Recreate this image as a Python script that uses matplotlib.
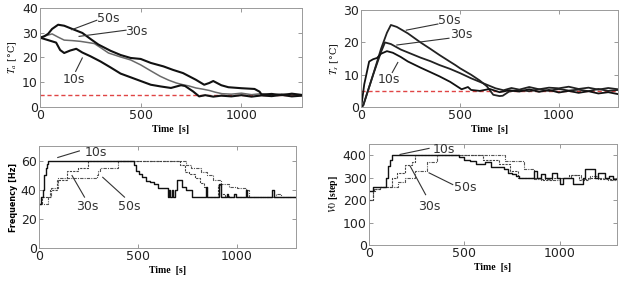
import matplotlib
matplotlib.use("Agg")
import matplotlib.pyplot as plt

# ---- data ----
# air temperature Ta [C]
ta10_t = [0, 20, 40, 60, 80, 100, 120, 150, 180, 210, 250, 300, 350, 400, 450, 500, 550, 600, 650, 700,
          720, 760, 790, 820, 860, 900, 950, 1000, 1050, 1100, 1150, 1200, 1250, 1300]
ta10 = [28, 27.5, 27, 26.5, 26, 23, 21.8, 22.8, 23.5, 22, 20.5, 18.4, 16, 13.5, 12, 10.5, 9, 8.3, 7.7, 8.8,
        8.5, 6.3, 4.3, 4.8, 4.2, 4.6, 4.3, 4.8, 4.2, 4.7, 4.4, 4.9, 4.3, 4.6]
ta30_t = [0, 30, 60, 90, 120, 160, 200, 240, 270, 300, 340, 400, 450, 500, 550, 597, 640, 677, 710, 740,
          774, 810, 840, 870, 903, 950, 1000, 1050, 1100, 1150, 1200, 1250, 1300]
ta30 = [28, 28.8, 29.5, 28.2, 27, 26.8, 26.5, 26, 25.6, 24, 21.8, 20.2, 19, 17, 14.6, 12.4, 10.8, 9.7, 9, 8.5,
        7.7, 7.2, 6.7, 6, 5.4, 5.2, 5.6, 5, 5.4, 4.8, 5.3, 5.0, 4.7]
ta50_t = [0, 20, 40, 60, 90, 120, 160, 210, 250, 290, 350, 400, 450, 500, 550, 613, 660, 710, 774, 815,
          840, 860, 900, 935, 1000, 1065, 1090, 1100, 1150, 1200, 1250, 1300]
ta50 = [28, 28.5, 29.5, 31.5, 33.2, 32.8, 31.5, 29.9, 27.5, 25.2, 22.7, 21.0, 19.8, 19.4, 17.8, 16.4, 15.0, 13.7, 11, 9,
        9.7, 10.5, 8.8, 8, 7.6, 7.3, 6.2, 5, 5.3, 4.8, 5.4, 4.9]

# supply temperature Ts [C]
ts10_t = [0, 15, 40, 60, 80, 100, 130, 160, 200, 236, 300, 350, 396, 450, 508, 540, 556, 600, 650, 700,
          750, 800, 850, 900, 950, 1000, 1050, 1100, 1150, 1200, 1250, 1300]
ts10 = [0, 7, 14.1, 14.8, 15.2, 16.5, 17.3, 16.8, 15.5, 14.1, 12.2, 10.8, 9.5, 7.8, 5.5, 6.2, 5.3, 5.0, 5.6, 4.6,
        5.2, 4.8, 5.5, 4.7, 5.3, 4.5, 5.0, 4.4, 4.9, 4.2, 4.6, 4.0]
ts30_t = [0, 10, 60, 100, 120, 150, 200, 236, 300, 350, 396, 450, 500, 556, 600, 636, 680, 720, 760, 800,
          850, 900, 950, 1000, 1050, 1100, 1150, 1200, 1250, 1300]
ts30 = [0, 0.5, 10, 17, 20, 19.5, 17.8, 16.9, 15.3, 14.2, 13, 11.8, 10.5, 8.9, 7.8, 6.9, 5.8, 5.2, 5.9, 5.4,
        6.2, 5.5, 6.0, 5.8, 6.3, 5.6, 6.0, 5.4, 5.9, 5.5]
ts50_t = [0, 10, 60, 100, 130, 150, 180, 236, 300, 350, 396, 450, 476, 500, 556, 600, 636, 668, 700, 716,
          748, 800, 850, 900, 950, 1000, 1050, 1100, 1150, 1200, 1250, 1300]
ts50 = [0, 0.5, 10, 18, 23, 25.4, 24.8, 22.8, 20, 18, 16.1, 14, 13, 12, 10, 8.2, 6.4, 3.8, 3.4, 3.5,
        4.8, 5.3, 4.9, 5.5, 5.0, 5.6, 5.1, 5.4, 4.9, 5.6, 5.0, 5.3]

# compressor frequency [Hz]
f10_t = [0, 10, 20, 28, 35, 40, 45, 480, 490, 505, 520, 540, 560, 580, 600, 650, 658, 665, 672, 680,
         690, 700, 723, 741, 775, 843, 851, 910, 918, 948, 955, 988, 995, 1047, 1053, 1178, 1186, 1300]
f10 = [30, 35, 40, 50, 55, 58, 60, 57, 53, 51, 48.6, 46.4, 45.2, 44, 41, 35, 40, 35, 40, 35,
       40, 47, 42, 40, 35, 42, 35, 44, 35, 37, 35, 37, 35, 40, 35, 40, 35, 35]
f30_t = [0, 15, 55, 90, 145, 200, 250, 713, 740, 760, 790, 815, 835, 850, 905, 922, 940, 960, 1300]
f30 = [30, 35, 40, 47, 53, 55, 60, 57, 52, 51, 48, 45, 42, 35, 43, 37, 36, 35, 35]
f50_t = [0, 45, 60, 95, 293, 300, 310, 400, 745, 770, 820, 850, 880, 920, 960, 1000, 1045, 1060, 1198, 1224, 1300]
f50 = [30, 35, 41, 48, 50, 53, 55, 60, 57, 55, 52, 50, 47, 44, 42, 41, 40, 35, 37, 35, 35]

# valve opening V0 [step]
v10_t = [0, 20, 90, 100, 110, 120, 475, 500, 530, 560, 610, 640, 707, 730, 752, 770, 788, 868, 880, 905,
         925, 958, 984, 1000, 1020, 1070, 1123, 1132, 1185, 1203, 1240, 1260, 1280, 1300]
v10 = [240, 260, 300, 350, 380, 400, 390, 380, 373, 361, 368, 346, 340, 320, 316, 305, 300, 330, 300, 316,
       300, 322, 300, 271, 300, 271, 300, 338, 300, 322, 300, 305, 295, 300]
v30_t = [0, 20, 35, 57, 120, 150, 191, 227, 244, 600, 680, 740, 780, 900, 960, 1050, 1100, 1150, 1200, 1300]
v30 = [200, 240, 250, 260, 300, 320, 354, 370, 400, 380, 362, 330, 300, 290, 300, 310, 290, 300, 295, 300]
v50_t = [0, 20, 30, 60, 154, 191, 244, 307, 360, 713, 815, 868, 950, 1000, 1060, 1110, 1160, 1200, 1250, 1300]
v50 = [200, 240, 250, 260, 280, 300, 331, 368, 400, 376, 338, 293, 290, 300, 310, 295, 305, 298, 290, 295]

target_temp = 5

plt.rcParams['font.family'] = ['DejaVu Sans']
plt.rcParams['mathtext.fontset'] = 'stix'

fig = plt.figure(figsize=(6.25, 2.81), dpi=100)
ax1 = fig.add_axes([0.064, 0.619, 0.419, 0.353])
ax2 = fig.add_axes([0.578, 0.619, 0.411, 0.345])
ax3 = fig.add_axes([0.062, 0.117, 0.412, 0.363])
ax4 = fig.add_axes([0.590, 0.128, 0.397, 0.360])


def style(ax, ylim, yticks, ylabel, ylabel_kw):
    ax.set_xlim(0, 1300)
    ax.set_ylim(*ylim)
    ax.set_xticks([0, 500, 1000])
    ax.set_yticks(yticks)
    ax.tick_params(direction='in', length=3, width=0.6, color='#888888', top=True, right=True,
                   labelsize=9, pad=1.5, labelcolor='#222222')
    for s in ax.spines.values():
        s.set_color('#9a9a9a')
        s.set_linewidth(0.7)
    ax.set_xlabel('Time  [s]', family='Liberation Serif', weight='bold', fontsize=7, labelpad=2)
    ax.set_ylabel(ylabel, labelpad=2, **ylabel_kw)


def note(ax, text, xy, xytext, lineend):
    ax.plot([xy[0], lineend[0]], [xy[1], lineend[1]], color='#333333', lw=0.8)
    ax.text(xytext[0], xytext[1], text, fontsize=9, color='#333333', ha='center', va='center')


# Ta
ax1.axhline(target_temp, color='#e04545', ls=(0, (3, 2)), lw=1.0)
ax1.plot(ta30_t, ta30, color='#6a6a6a', lw=1.1)
ax1.plot(ta50_t, ta50, color='#111111', lw=1.5)
ax1.plot(ta10_t, ta10, color='#111111', lw=1.5)
style(ax1, (0, 40), [0, 10, 20, 30, 40], r'$T_a$ [°C]', dict(fontsize=7, family='DejaVu Serif'))
note(ax1, '50s', (158, 31.2), (339, 35.9), (282, 35))
note(ax1, '30s', (194, 28.5), (476, 30.6), (427, 31))
note(ax1, '10s', (210, 19.8), (169, 11), (177, 14.4))

# Ts
ax2.axhline(target_temp, color='#e04545', ls=(0, (3, 2)), lw=1.0)
ax2.plot(ts30_t, ts30, color='#222222', lw=1.3)
ax2.plot(ts50_t, ts50, color='#222222', lw=1.3)
ax2.plot(ts10_t, ts10, color='#111111', lw=1.3)
style(ax2, (0, 30), [0, 10, 20, 30], r'$T_s$ [°C]', dict(fontsize=7, family='DejaVu Serif'))
note(ax2, '50s', (228, 23.8), (444, 26.9), (388, 25.7))
note(ax2, '30s', (180, 19.2), (508, 22.3), (444, 21.3))
note(ax2, '10s', (185, 13.8), (140, 8.4), (157, 10.7))

# Frequency
ax3.step(f50_t, f50, where='post', color='#555555', lw=0.8, ls=(0, (3, 1, 1, 1)))
ax3.step(f30_t, f30, where='post', color='#444444', lw=0.8, ls=(0, (2, 1)))
ax3.step(f10_t, f10, where='post', color='#111111', lw=1.0)
style(ax3, (0, 70), [0, 20, 40, 60], 'Frequency [Hz]',
      dict(fontsize=6.5, weight='bold', family=['Liberation Sans Narrow', 'DejaVu Sans'],
           fontstretch='condensed'))
note(ax3, '10s', (96, 62.2), (290, 65.6), (205, 66.7))
note(ax3, '30s', (168, 49.8), (247, 28.7), (231, 35))
note(ax3, '50s', (323, 48.6), (458, 28.3), (433, 35))

# V0
ax4.step(v50_t, v50, where='post', color='#555555', lw=0.8, ls=(0, (3, 1, 1, 1)))
ax4.step(v30_t, v30, where='post', color='#444444', lw=0.8, ls=(0, (2, 1)))
ax4.step(v10_t, v10, where='post', color='#111111', lw=1.0)
style(ax4, (0, 450), [0, 100, 200, 300, 400], r'$\mathbf{\mathit{V0}}$ [step]',
      dict(fontsize=7, family='Liberation Serif', weight='bold'))
note(ax4, '10s', (164, 403), (396, 425), (316, 430))
note(ax4, '30s', (217, 351), (316, 172), (298, 224))
note(ax4, '50s', (316, 321), (503, 254), (440, 269))

fig.savefig('out.png', dpi=100)
